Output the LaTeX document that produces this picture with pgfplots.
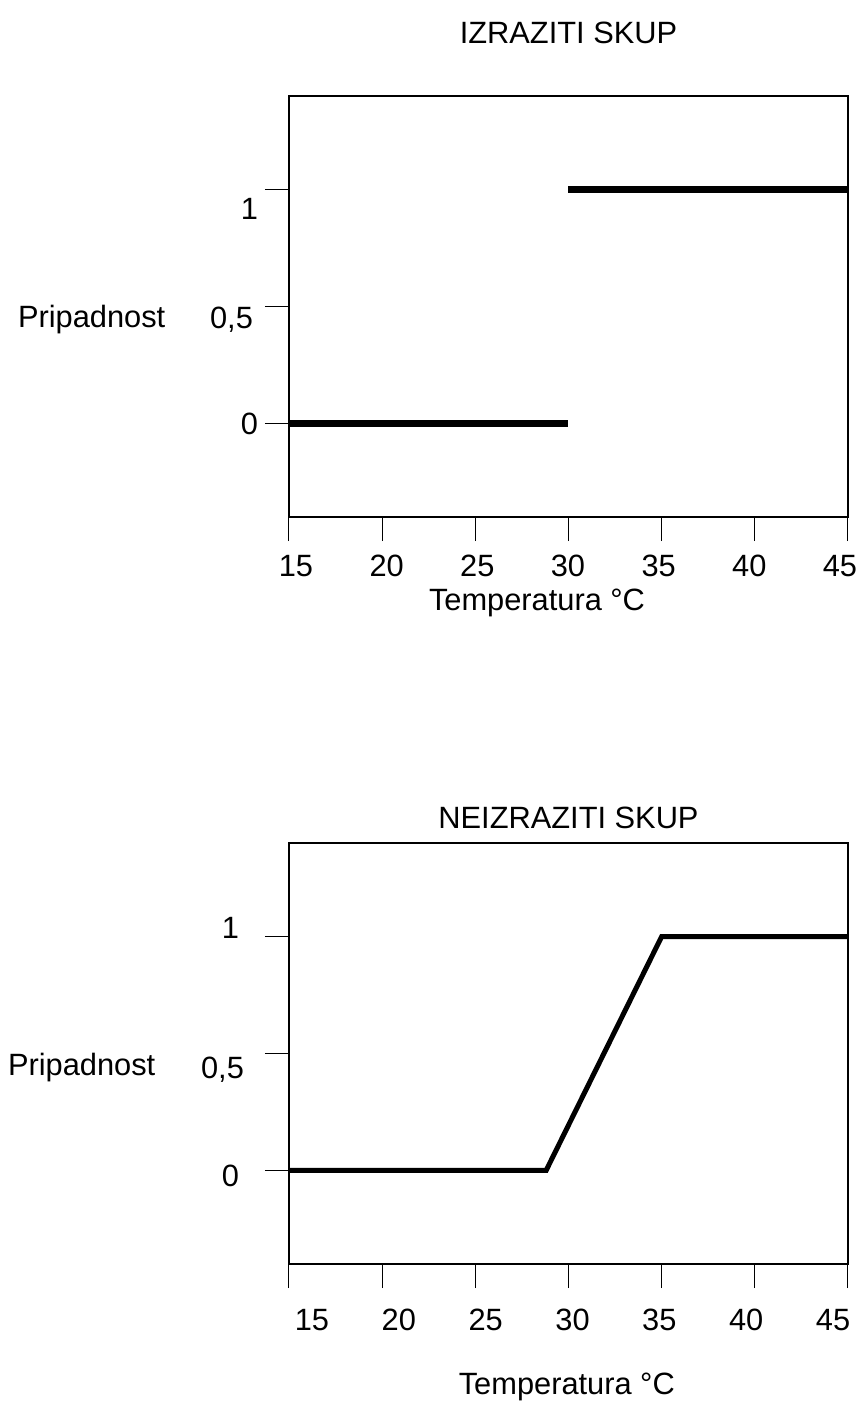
\documentclass[border=0pt]{standalone}
\usepackage{fontspec}
\setmainfont{Liberation Sans}
\usepackage{pgfplots}
\pgfplotsset{compat=1.18}

% common look of both membership plots
\pgfplotsset{
  fuzzy/.style={
    scale only axis, width=279.5pt, height=210.5pt,
    xmin=15, xmax=45, ymin=-0.4, ymax=1.4,
    xtick={15,20,...,45}, ytick={0,0.5,1},
    xtick pos=left, ytick pos=left, tick align=outside,
    major tick length=12pt,
    axis line style={line width=0.85pt},
    every tick/.style={black, line width=0.5pt},
    /pgf/number format/assume math mode=true,
    font=\fontsize{15.4}{18}\selectfont,
    every axis title shift=0pt,
    yticklabel style={anchor=base east},
    clip=false,
  }
}

\begin{document}
\begin{tikzpicture}
\useasboundingbox (0,0) rectangle (431.5pt,705pt);

% crisp set
\begin{axis}[fuzzy,
    at={(144.5pt,446.5pt)}, anchor=south west,
    xticklabel style={anchor=north, yshift=-3.5pt},
    xticklabel={\hspace*{\dimexpr 7pt-2.5pt*\ticknum\relax}\pgfmathprintnumber{\tick}},
    yticklabels={\raisebox{-5.5pt}{0},{\raisebox{-11pt}{0,5}\hspace*{2.5pt}},\raisebox{-15pt}{1}},
    title={IZRAZITI SKUP},
    title style={at={(axis description cs:0.5,1.1496)}, anchor=center},
    xlabel={Temperatura °C},
    xlabel style={at={(axis description cs:0.4437,-0.204)}, anchor=center},
    ylabel={Pripadnost},
    ylabel style={rotate=-90, at={(axis description cs:-0.4973,0.468)}, anchor=west},
]
\addplot[black, line width=3.5pt] coordinates {(15,0) (30,0)};
\addplot[black, line width=3.5pt] coordinates {(30,1) (45,1)};
\end{axis}

% fuzzy set
\begin{axis}[fuzzy,
    at={(144.5pt,73pt)}, anchor=south west,
    xticklabel style={anchor=north, yshift=-7pt},
    xticklabel={\hspace*{\dimexpr 23pt-6.33pt*\ticknum\relax}\pgfmathprintnumber{\tick}},
    yticklabels={{\raisebox{-8pt}{0}\hspace*{9.5pt}},{\raisebox{-12.5pt}{0,5}\hspace*{7pt}},{\raisebox{-1pt}{1}\hspace*{9.5pt}}},
    title={NEIZRAZITI SKUP},
    title style={at={(axis description cs:0.5,1.0594)}, anchor=center},
    xlabel={Temperatura °C},
    xlabel style={at={(axis description cs:0.497,-0.292)}, anchor=center},
    ylabel={Pripadnost},
    ylabel style={rotate=-90, at={(axis description cs:-0.5152,0.4656)}, anchor=west},
]
\addplot[black, line width=2.5pt] coordinates {(15,0) (28.8,0) (35,1) (45,1)};
\end{axis}
\end{tikzpicture}
\end{document}
